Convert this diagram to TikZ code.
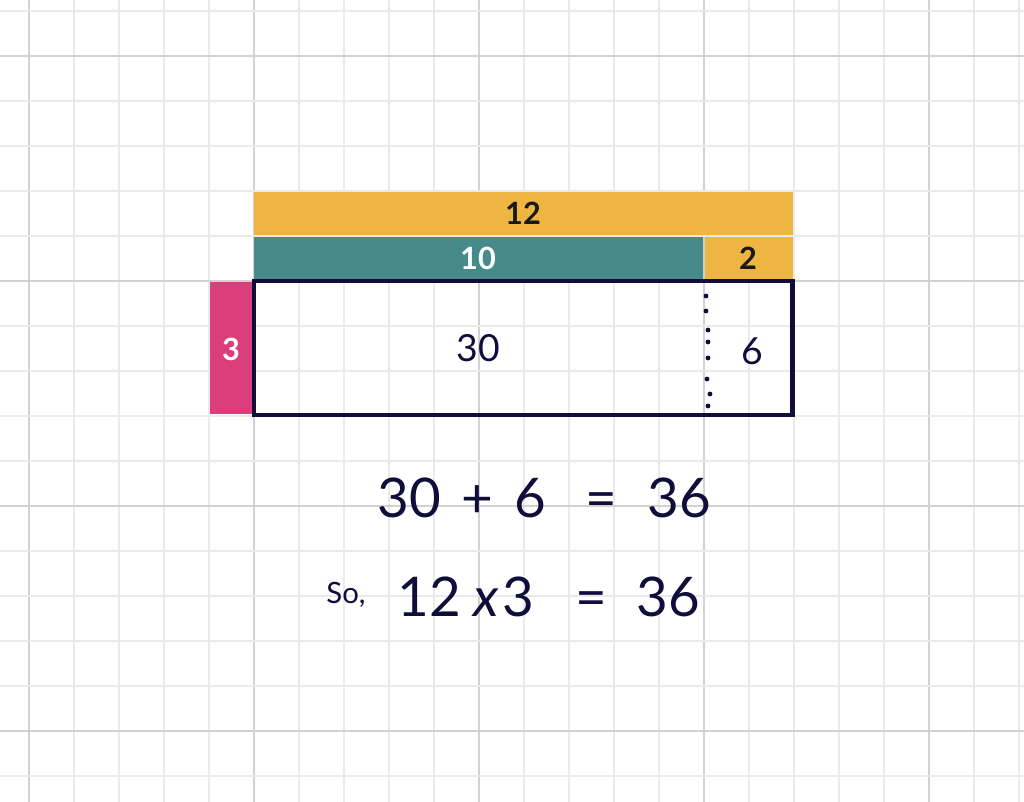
\documentclass[tikz,border=0pt]{standalone}
\usepackage{fontspec}
\setmainfont{Lato}
\definecolor{gridminor}{HTML}{EAEAEA}
\definecolor{gridmajor}{HTML}{D2D2D2}
\definecolor{barYellow}{HTML}{EFB542}
\definecolor{barTeal}{HTML}{478A8A}
\definecolor{barPink}{HTML}{DC3E7B}
\definecolor{navy}{HTML}{100D3B}
\begin{document}
\begin{tikzpicture}[x=0.75pt,y=-0.75pt,
  lbl/.style={font=\fontsize{23}{26}\selectfont\bfseries, inner sep=0pt, anchor=center},
  val/.style={font=\fontsize{28}{32}\selectfont, text=navy, inner sep=0pt, anchor=center},
  eq/.style={font=\fontsize{41}{46}\selectfont, text=navy, inner sep=0pt, anchor=base}]
\useasboundingbox (0,0) rectangle (1024,802);
\fill[white] (0,0) rectangle (1024,802);
% grid
\foreach \i in {-1,...,22} {
  \pgfmathtruncatemacro{\m}{mod(\i+5,5)}
  \ifnum\m=0
    \draw[gridmajor, line width=1.5] ({29+45*\i},0) -- ({29+45*\i},802);
  \else
    \draw[gridminor, line width=1.5] ({29+45*\i},0) -- ({29+45*\i},802);
  \fi
}
\foreach \j in {0,...,18} {
  \pgfmathtruncatemacro{\m}{mod(\j+4,5)}
  \ifnum\m=0
    \draw[gridmajor, line width=1.5] (0,{11+45*\j}) -- (1024,{11+45*\j});
  \else
    \draw[gridminor, line width=1.5] (0,{11+45*\j}) -- (1024,{11+45*\j});
  \fi
}
% bars
\fill[barYellow] (254,192) rectangle (793,235);
\fill[barTeal] (254,237) rectangle (703,279);
\fill[barYellow] (705,237) rectangle (793,279);
\fill[barPink] (210,282) rectangle (254,414);
\node[lbl, text=black!90] (l12) at (523,213) {12};
\node[lbl, text=white] (l10) at (478,258) {10};
\node[lbl, text=black!90] (l2) at (748,258) {2};
\node[lbl, text=white] (l3) at (231,349) {3};
% main rectangle
\draw[navy, line width=3.5] (254,281) rectangle (792.5,415);
% dotted divider
\foreach \p in {(706,296),(706,311),(708,330),(708,342),(708,358),(707,379),(710,394),(708,406)}
  \fill[navy] \p circle (2.4);
\node[val] (v30) at (478,348) {30};
\node[val] (v6) at (752,351) {6};
% equations
\node[eq] (e30) at (409,517) {30};
\node[eq] (eplus) at (477,517) {+};
\node[eq] (e6) at (530,517) {6};
\node[eq] (eeq1) at (601,517) {=};
\node[eq] (e36a) at (679,517) {36};
\node[font=\fontsize{22}{26}\selectfont, text=navy, inner sep=0pt, anchor=base] (so) at (346,603) {So,};
\node[eq] (e12) at (429,616) {12};
\node[eq] (ex) at (486,616) {\itshape x};
\node[eq] (e3) at (518,616) {3};
\node[eq] (eeq2) at (591,616) {=};
\node[eq] (e36b) at (668,616) {36};
\end{tikzpicture}
\end{document}
